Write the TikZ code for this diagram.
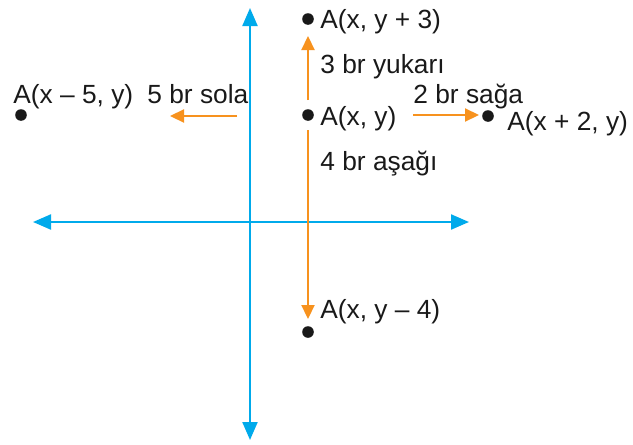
\documentclass[tikz,border=0pt]{standalone}
\usepackage{fontspec}
\setmainfont{Liberation Sans}
\usetikzlibrary{arrows.meta}
\definecolor{axisblue}{RGB}{0,170,235}
\definecolor{movorange}{RGB}{247,146,30}
\tikzset{
  axis/.style={draw=axisblue, line width=1.1pt, {Triangle[length=9pt,width=7.5pt]}-{Triangle[length=9pt,width=7.5pt]}},
  move/.style={draw=movorange, line width=1.1pt, -{Triangle[length=7pt,width=6.5pt]}},
  pt/.style={circle, fill=black!90, inner sep=0pt, minimum size=5.8pt},
  lbl/.style={anchor=base west, inner sep=0pt, font=\fontsize{13.15}{15}\selectfont, text=black!90}
}
\begin{document}
\begin{tikzpicture}[x=0.5pt,y=-0.5pt]
\useasboundingbox (0,0) rectangle (633,445);
% axes
\coordinate (vtop) at (250,8);
\coordinate (vbot) at (250,440);
\coordinate (hl) at (33,222);
\coordinate (hr) at (469,222);
\draw[axis] (vbot) -- (vtop);
\draw[axis] (hl) -- (hr);
% points
\node[pt] (p0) at (308,115) {};
\node[pt] (pu) at (308,19) {};
\node[pt] (pd) at (308,332) {};
\node[pt] (pr) at (488,116) {};
\node[pt] (pl) at (21,115) {};
% movement arrows
\coordinate (us) at (308,100);
\coordinate (ue) at (308,36);
\coordinate (ds) at (308,130);
\coordinate (de) at (308,319);
\coordinate (rs) at (413,115);
\coordinate (re) at (479,115);
\coordinate (ls) at (237,116);
\coordinate (le) at (170,116);
\draw[move] (us) -- (ue);
\draw[move] (ds) -- (de);
\draw[move] (rs) -- (re);
\draw[move] (ls) -- (le);
% labels
\node[lbl] (tu) at (320,28) {A(x, y + 3)};
\node[lbl] (tuy) at (320,73) {3 br yukarı};
\node[lbl] (t0) at (320,125) {A(x, y)};
\node[lbl] (tda) at (320,170) {4 br aşağı};
\node[lbl] (trs) at (413,103) {2 br sağa};
\node[lbl] (tr) at (507,130) {A(x + 2, y)};
\node[lbl] (tl) at (13,103) {A(x – 5, y)};
\node[lbl] (tls) at (147,103) {5 br sola};
\node[lbl] (td) at (320,318) {A(x, y – 4)};
\end{tikzpicture}
\end{document}
